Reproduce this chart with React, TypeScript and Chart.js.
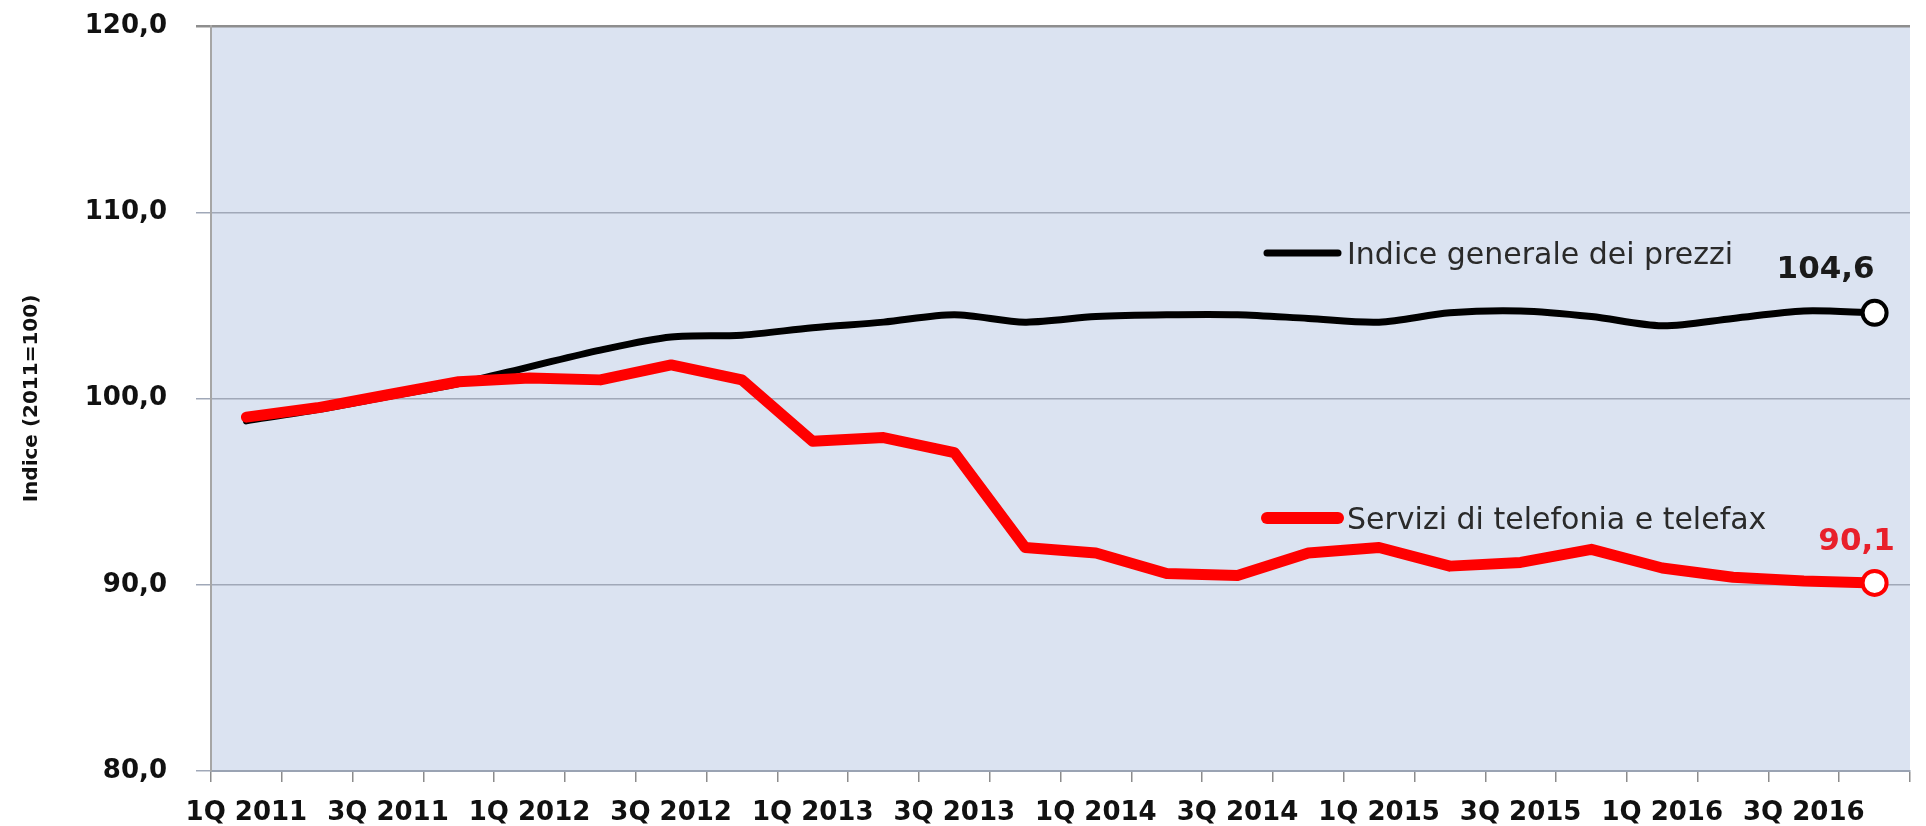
import React, { useEffect, useRef } from 'react';
import { Chart, registerables } from 'chart.js';

Chart.register(...registerables);

const quarters = [
  '1Q 2011', '2Q 2011', '3Q 2011', '4Q 2011',
  '1Q 2012', '2Q 2012', '3Q 2012', '4Q 2012',
  '1Q 2013', '2Q 2013', '3Q 2013', '4Q 2013',
  '1Q 2014', '2Q 2014', '3Q 2014', '4Q 2014',
  '1Q 2015', '2Q 2015', '3Q 2015', '4Q 2015',
  '1Q 2016', '2Q 2016', '3Q 2016', '4Q 2016',
];

const indiceGenerale = [
  98.8, 99.4, 100.1, 100.8,
  101.7, 102.6, 103.3, 103.4,
  103.8, 104.1, 104.5, 104.1,
  104.4, 104.5, 104.5, 104.3,
  104.1, 104.6, 104.7, 104.4,
  103.9, 104.3, 104.7, 104.6,
];

const telefonia = [
  99.0, 99.5, 100.2, 100.9,
  101.1, 101.0, 101.8, 101.0,
  97.7, 97.9, 97.1, 92.0,
  91.7, 90.6, 90.5, 91.7,
  92.0, 91.0, 91.2, 91.9,
  90.9, 90.4, 90.2, 90.1,
];

const seriesNames = ['Indice generale dei prezzi', 'Servizi di telefonia e telefax'];
const seriesColors = ['#000000', '#ff0000'];
const endLabelColors = ['#1a1a1a', '#e8202a'];
const yTickValues = [80, 90, 100, 110, 120];
const yAxisTitle = 'Indice (2011=100)';

const fmt = (v: number) => v.toFixed(1).replace('.', ',');

export default function App() {
  const ref = useRef<HTMLCanvasElement>(null);

  useEffect(() => {
    const canvas = ref.current;
    if (!canvas) return;

    const plotBg = {
      id: 'plotBg',
      beforeDraw(chart: any) {
        const { ctx, chartArea: a } = chart;
        ctx.save();
        ctx.fillStyle = '#dbe3f1';
        ctx.fillRect(a.left, a.top, a.right - a.left, a.bottom - a.top);
        ctx.restore();
      },
    };

    const annotations = {
      id: 'annotations',
      afterDatasetsDraw(chart: any) {
        const { ctx, chartArea: a } = chart;
        ctx.save();
        // in-plot legend
        const legendItems = [
          { dy: 227, lw: 7 },
          { dy: 492, lw: 12 },
        ];
        legendItems.forEach((it, i) => {
          const yy = a.top + it.dy;
          ctx.strokeStyle = seriesColors[i];
          ctx.lineWidth = it.lw;
          ctx.lineCap = 'round';
          ctx.beginPath();
          ctx.moveTo(a.left + 1056, yy);
          ctx.lineTo(a.left + 1127, yy);
          ctx.stroke();
          ctx.fillStyle = '#2a2a2a';
          ctx.font = '30px "DejaVu Sans"';
          ctx.textAlign = 'left';
          ctx.textBaseline = 'alphabetic';
          ctx.fillText(seriesNames[i], a.left + 1136, yy + 11);
        });
        // end-value labels
        const offsets = [
          { dx: -49, dy: -35 },
          { dx: -18, dy: -33 },
        ];
        chart.data.datasets.forEach((ds: any, i: number) => {
          const meta = chart.getDatasetMeta(i);
          const last = ds.data.length - 1;
          const pt = meta.data[last];
          ctx.fillStyle = endLabelColors[i];
          ctx.font = 'bold 31px "DejaVu Sans"';
          ctx.textAlign = 'center';
          ctx.textBaseline = 'alphabetic';
          ctx.fillText(fmt(ds.data[last]), pt.x + offsets[i].dx, pt.y + offsets[i].dy);
        });
        ctx.restore();
      },
    };

    const lastIdx = (n: number) => (c: any) => (c.dataIndex === n - 1 ? 12 : 0);

    const chart = new Chart(canvas, {
      type: 'line',
      data: {
        labels: quarters,
        datasets: [
          {
            label: seriesNames[0],
            data: indiceGenerale,
            borderColor: seriesColors[0],
            borderWidth: 7,
            tension: 0.3,
            borderJoinStyle: 'round',
            borderCapStyle: 'round',
            pointRadius: lastIdx(indiceGenerale.length),
            pointHoverRadius: lastIdx(indiceGenerale.length),
            pointBackgroundColor: '#ffffff',
            pointBorderColor: seriesColors[0],
            pointBorderWidth: 4,
            order: 2,
          },
          {
            label: seriesNames[1],
            data: telefonia,
            borderColor: seriesColors[1],
            borderWidth: 11,
            tension: 0,
            borderJoinStyle: 'round',
            borderCapStyle: 'round',
            pointRadius: lastIdx(telefonia.length),
            pointHoverRadius: lastIdx(telefonia.length),
            pointBackgroundColor: '#ffffff',
            pointBorderColor: seriesColors[1],
            pointBorderWidth: 4,
            order: 1,
          },
        ],
      },
      options: {
        animation: false,
        responsive: false,
        events: [],
        layout: { padding: { top: 26, left: 0, right: 0, bottom: 0 } },
        plugins: {
          legend: { display: false },
          tooltip: { enabled: false },
        },
        scales: {
          x: {
            type: 'category',
            offset: true,
            afterFit: (scale: any) => {
              scale.height = 55;
              scale.paddingLeft = 0;
              scale.paddingRight = 0;
            },
            grid: {
              offset: true,
              drawOnChartArea: false,
              drawTicks: true,
              tickLength: 11,
              color: '#8c8c8c',
              lineWidth: 1.5,
            },
            border: { display: true, color: '#9aa3b3', width: 2 },
            ticks: {
              autoSkip: false,
              maxRotation: 0,
              minRotation: 0,
              padding: 16,
              color: '#111111',
              font: { family: '"DejaVu Sans"', size: 26, weight: 'bold', lineHeight: 1.2 },
              callback: (_v: any, idx: number) => (idx % 2 === 0 ? quarters[idx] : ''),
            },
          },
          y: {
            type: 'linear',
            min: yTickValues[0],
            max: yTickValues[yTickValues.length - 1],
            afterBuildTicks: (scale: any) => {
              scale.ticks = yTickValues.map((v) => ({ value: v }));
            },
            afterFit: (scale: any) => {
              scale.width = 211;
              scale.paddingTop = 0;
              scale.paddingBottom = 0;
            },
            grid: {
              color: (c: any) => (c.tick && c.tick.value === 120 ? '#8e8e8e' : '#a0a8b8'),
              lineWidth: (c: any) => (c.tick && c.tick.value === 120 ? 2.5 : 1.5),
              drawTicks: true,
              tickLength: 15,
            },
            border: { display: true, color: '#a6a6a6', width: 2 },
            ticks: {
              padding: 29,
              color: '#111111',
              font: { family: '"DejaVu Sans"', size: 26, weight: 'bold', lineHeight: 1.2 },
              callback: (v: any) => fmt(Number(v)),
            },
            title: {
              display: true,
              text: yAxisTitle,
              color: '#111111',
              font: { family: '"DejaVu Sans"', size: 20, weight: 'bold', lineHeight: 1.2 },
              padding: { top: 20, bottom: 40 },
            },
          },
        },
      },
      plugins: [plotBg, annotations],
    } as any);

    return () => chart.destroy();
  }, []);

  return (
    <div style={{ position: 'absolute', left: 0, top: 0, width: 1926, height: 826, background: '#ffffff' }}>
      <canvas ref={ref} width={1926} height={826} style={{ display: 'block' }} />
    </div>
  );
}
